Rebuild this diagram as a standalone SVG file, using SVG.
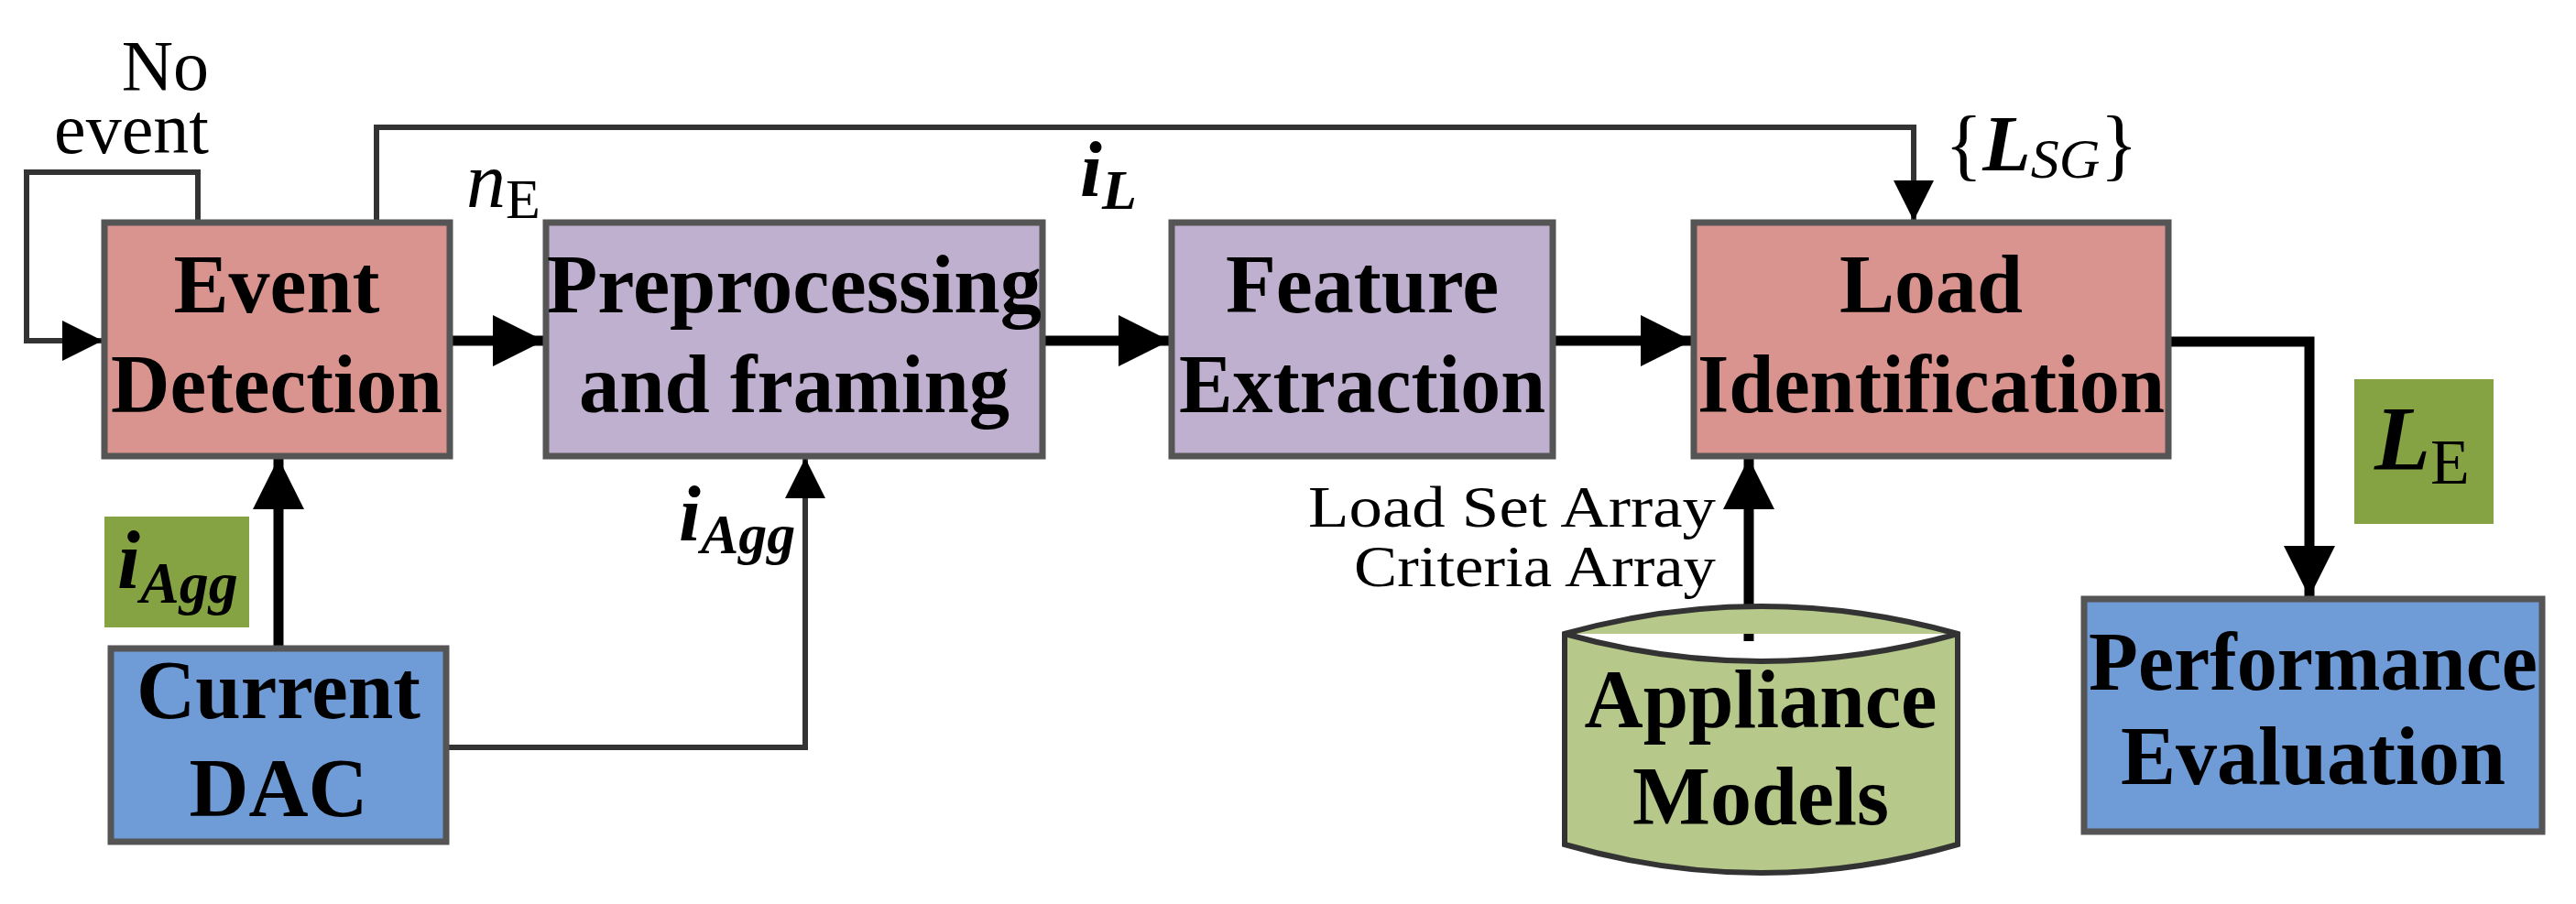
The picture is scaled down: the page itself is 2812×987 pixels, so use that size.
<svg xmlns="http://www.w3.org/2000/svg" width="2812" height="987" viewBox="0 0 2812 987">
<style>
.box{stroke:#555;stroke-width:7}
.t{font-family:"Liberation Serif",serif;font-weight:bold;font-size:90px;text-anchor:middle;fill:#000}
.m{font-family:"Liberation Serif",serif;font-style:italic;fill:#000}
.s{font-family:"Liberation Serif",serif;fill:#000}
.thin{fill:none;stroke:#333;stroke-width:6}
.thick{fill:none;stroke:#000;stroke-width:11}
</style>
<defs>
<marker id="b" viewBox="0 0 10 10" refX="10" refY="5" markerWidth="44" markerHeight="50" orient="auto" markerUnits="userSpaceOnUse"><path d="M0,0 L10,5 L0,10 z" fill="#000"/></marker>
<marker id="c" viewBox="0 0 10 10" refX="10" refY="5" markerWidth="56" markerHeight="56" orient="auto" markerUnits="userSpaceOnUse"><path d="M0,0 L10,5 L0,10 z" fill="#000"/></marker>
</defs>
<rect width="2812" height="987" fill="#fff"/>
<g id="connectors">
<path class="thin" d="M216,243 V188 H29 V372 H112" marker-end="url(#b)"/>
<path class="thin" d="M411,243 V139 H2089 V241" marker-end="url(#b)"/>
<path class="thick" d="M491,372 H594" marker-end="url(#c)"/>
<path class="thick" d="M1138,372 H1277" marker-end="url(#c)"/>
<path class="thick" d="M1695,372 H1847" marker-end="url(#c)"/>
<path class="thick" d="M304,708 V500" marker-end="url(#c)"/>
<path class="thin" d="M487,816 H879 V500" marker-end="url(#b)"/>
<path class="thick" d="M1909,700 V500" marker-end="url(#c)"/>
<path class="thick" d="M2367,373 H2521 V652" marker-end="url(#c)"/>
</g>
<g id="event"><rect class="box" x="114" y="243" width="377" height="255" fill="#d9948f"/><text class="t" x="302" y="341">Event</text><text class="t" x="302" y="450" textLength="362" lengthAdjust="spacingAndGlyphs">Detection</text></g>
<g id="prep"><rect class="box" x="596" y="243" width="542" height="255" fill="#c0b0cf"/><text class="t" x="867" y="341" textLength="540" lengthAdjust="spacingAndGlyphs">Preprocessing</text><text class="t" x="867" y="450" textLength="470" lengthAdjust="spacingAndGlyphs">and framing</text></g>
<g id="feat"><rect class="box" x="1279" y="243" width="416" height="255" fill="#c0b0cf"/><text class="t" x="1487" y="341">Feature</text><text class="t" x="1487" y="450" textLength="400" lengthAdjust="spacingAndGlyphs">Extraction</text></g>
<g id="load"><rect class="box" x="1849" y="243" width="518" height="255" fill="#d9948f"/><text class="t" x="2108" y="341">Load</text><text class="t" x="2108" y="450" textLength="510" lengthAdjust="spacingAndGlyphs">Identification</text></g>
<g id="dac"><rect class="box" x="121" y="708" width="366" height="211" fill="#6f9bd6" stroke="#222"/><text class="t" x="304" y="784" textLength="310" lengthAdjust="spacingAndGlyphs">Current</text><text class="t" x="304" y="891">DAC</text></g>
<g id="perf"><rect class="box" x="2275" y="654" width="500" height="254" fill="#6f9bd6" stroke="#222"/><text class="t" x="2525" y="753" textLength="490" lengthAdjust="spacingAndGlyphs">Performance</text><text class="t" x="2525" y="856">Evaluation</text></g>
<g id="appliance"><path d="M1708,692 Q1922,632 2137,692 V922 Q1922,984 1708,922 Z M1708,692 Q1922,752 2137,692" fill="#b6c98a" stroke="#333" stroke-width="6"/><text class="t" x="1922" y="794" textLength="385" lengthAdjust="spacingAndGlyphs">Appliance</text><text class="t" x="1922" y="900">Models</text></g>
<g id="labels">
<text class="s" font-size="78" x="228" y="98" text-anchor="end">No</text>
<text class="s" font-size="78" x="228" y="167" text-anchor="end">event</text>
<text class="m" font-size="86" x="509" y="226">n<tspan font-style="normal" font-size="62" dy="12">E</tspan></text>
<text class="m" font-weight="bold" font-size="86" x="1179" y="214">i<tspan font-size="62" dy="14">L</tspan></text>
<text class="m" font-weight="bold" font-size="86" x="741" y="590">i<tspan font-size="62" dy="14">Agg</tspan></text>
<text class="m" font-size="86" x="2123" y="186"><tspan font-style="normal">{</tspan><tspan font-weight="bold">L</tspan><tspan font-size="62" dy="8">SG</tspan><tspan font-style="normal" font-size="86" dy="-8">}</tspan></text>
<rect x="114" y="564" width="158" height="121" fill="#86a344"/>
<text class="m" font-weight="bold" font-size="90" x="128" y="642">i<tspan font-size="64" dy="16">Agg</tspan></text>
<rect x="2570" y="414" width="152" height="158" fill="#86a344"/>
<text class="m" font-weight="bold" font-size="100" x="2592" y="512">L<tspan font-style="normal" font-weight="normal" font-size="70" dy="16">E</tspan></text>
<text class="s" font-size="64" x="1873" y="575" text-anchor="end" textLength="445" lengthAdjust="spacingAndGlyphs">Load Set Array</text>
<text class="s" font-size="64" x="1873" y="640" text-anchor="end" textLength="395" lengthAdjust="spacingAndGlyphs">Criteria Array</text>
</g>
</svg>
